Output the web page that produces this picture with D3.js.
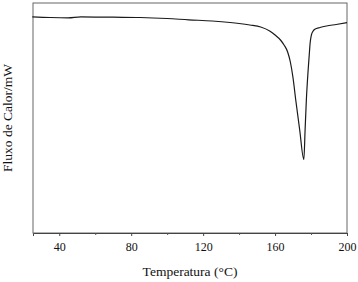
<!DOCTYPE html>
<html lang="pt">
<head>
  <meta charset="UTF-8">
  <title>DSC</title>
  <style>
    body { margin: 0; background: #fff; }
    svg { display: block; }
    text { font-family: "Liberation Serif", "DejaVu Serif", serif; fill: #111; }
  </style>
</head>
<body>
  <script src="https://d3js.org/d3.v7.min.js"></script>
  <svg id="chart" width="358" height="282"></svg>
  <script>
    // temperatura (°C) e fluxo de calor (mW, unidade arbitraria)
    let temps = [25, 35, 45, 52, 70, 85, 100, 112, 125, 135, 140, 146, 152, 157, 160, 163, 165, 167, 168.5, 170, 171.5, 173.7, 176, 176.7, 177.4, 178.4, 179, 179.5, 180.2, 181, 182.1, 185, 188.6, 194, 200]
    let flow = [-0.138, -0.145, -0.148, -0.138, -0.142, -0.145, -0.155, -0.168, -0.18, -0.195, -0.205, -0.22, -0.24, -0.28, -0.32, -0.37, -0.42, -0.49, -0.59, -0.75, -0.97, -1.27, -1.565, -1.27, -0.97, -0.67, -0.52, -0.40, -0.32, -0.285, -0.263, -0.245, -0.23, -0.215, -0.197]
    let xTicks = [40, 80, 120, 160, 200]
    let xMinor = [60, 100, 140, 180]

    let m = {left: 33, right: 11, top: 3, bottom: 49}
    let w = 358 - m.left - m.right
    let h = 282 - m.top - m.bottom

    let svg = d3.select('#chart')
    let g = svg.append('g').attr('transform', `translate(${m.left}, ${m.top})`)

    let x = d3.scaleLinear().domain([25.4, 200]).range([0, w])
    let y = d3.scaleLinear().domain([-2.3, 0]).range([h, 0])

    // moldura
    g.append('rect')
      .attr('x', 0).attr('y', 0)
      .attr('width', w).attr('height', h)
      .attr('fill', 'none')
      .attr('stroke', '#666')
      .attr('stroke-width', 1)

    let xAxis = g.append('g')
      .attr('transform', `translate(0, ${h})`)
      .call(d3.axisBottom(x).tickValues(xTicks).tickSize(3).tickPadding(6))
    xAxis.select('.domain').attr('stroke', '#444')
    xAxis.selectAll('.tick line').attr('stroke', '#444')
    xAxis.selectAll('text')
      .style('font-family', '"Liberation Serif", serif')
      .style('font-size', '12px')
      .attr('fill', '#111')

    let minor = g.append('g')
      .attr('transform', `translate(0, ${h})`)
      .call(d3.axisBottom(x).tickValues(xMinor).tickSize(2).tickFormat(''))
    minor.select('.domain').remove()
    minor.selectAll('.tick line').attr('stroke', '#555')

    let data = temps.map((t, i) => ({t: t, v: flow[i]}))
    let line = d3.line()
      .x(d => x(d.t))
      .y(d => y(d.v))
      .curve(d3.curveMonotoneX)

    g.append('path')
      .datum(data)
      .attr('d', line)
      .attr('fill', 'none')
      .attr('stroke', '#1a1a1a')
      .attr('stroke-width', 1.2)

    svg.append('text')
      .attr('x', 190)
      .attr('y', 276)
      .attr('text-anchor', 'middle')
      .style('font-size', '13.5px')
      .text('Temperatura (°C)')

    svg.append('text')
      .attr('transform', 'translate(12, 118) rotate(-90)')
      .attr('text-anchor', 'middle')
      .style('font-size', '13.5px')
      .text('Fluxo de Calor/mW')
  </script>
</body>
</html>
